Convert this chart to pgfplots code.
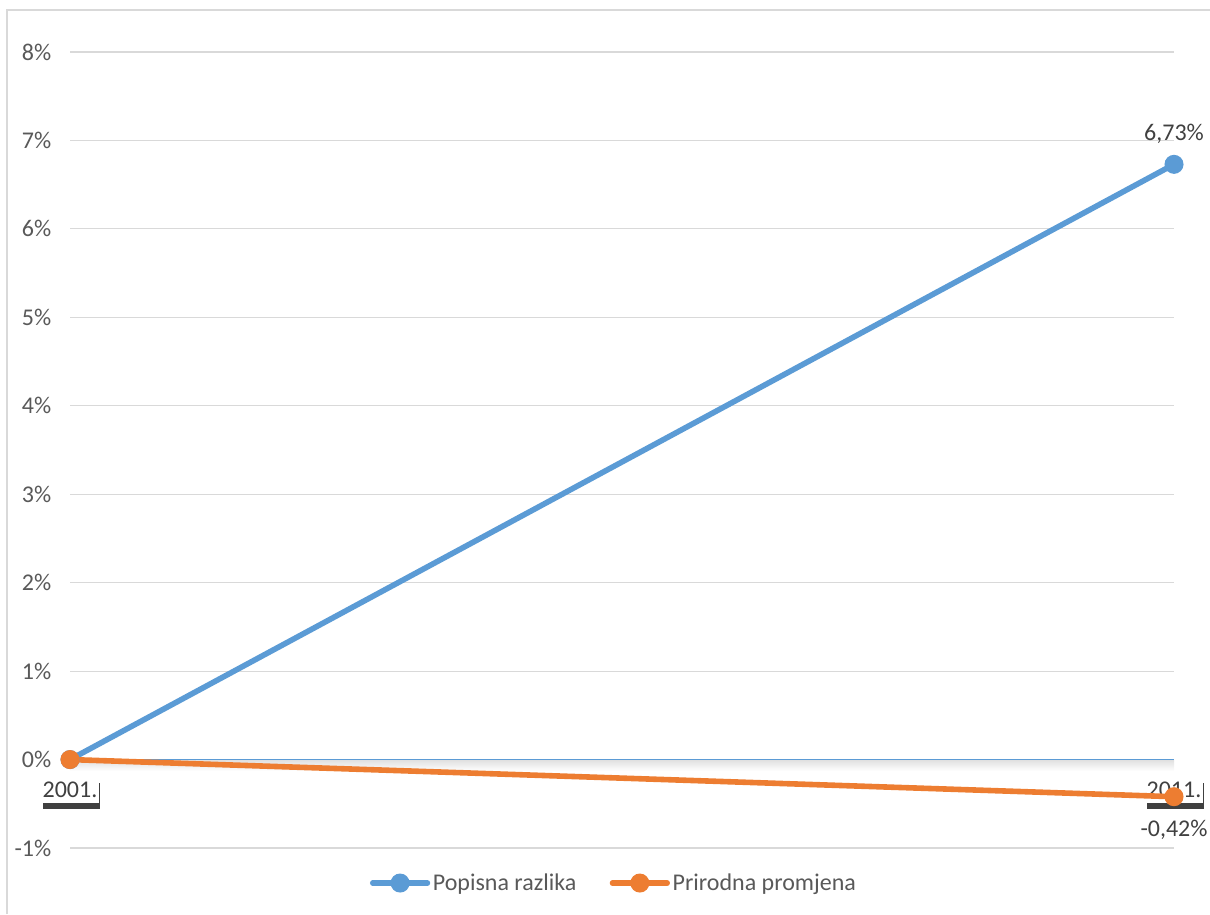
\documentclass[border=0pt]{standalone}
\usepackage{pgfplots}
\pgfplotsset{compat=1.18}
\usepackage{fontspec}
\setmainfont{Carlito}
\usetikzlibrary{shadows}
\definecolor{sblue}{HTML}{5B9BD5}
\definecolor{sorange}{HTML}{ED7D31}
\definecolor{gridc}{HTML}{D9D9D9}
\definecolor{txt}{HTML}{595959}
\definecolor{txtd}{HTML}{404040}
\begin{document}
\begin{tikzpicture}
\path[use as bounding box] (0,0) rectangle (907.5pt,-685.5pt);
\draw[gridc, line width=1.2pt] (5.25pt,-685.5pt) -- (5.25pt,-7.5pt) -- (907.5pt,-7.5pt);
\begin{axis}[
  at={(52.5pt,-636pt)}, anchor=south west,
  scale only axis, width=828pt, height=597pt,
  xmin=0, xmax=1, ymin=-1, ymax=8,
  clip=false,
  axis line style={draw=none},
  tick style={draw=none},
  ytick={-1,0,...,8},
  yticklabels={-1\%,0\%,1\%,2\%,3\%,4\%,5\%,6\%,7\%,8\%},
  ymajorgrids, grid style={gridc, line width=0.9pt},
  yticklabel style={font=\fontsize{18}{20}\selectfont, text=txt, xshift=-10.5pt},
  xtick={0,1}, xticklabels={2001.,2011.},
  xticklabel style={anchor=center, yshift=43.5pt, font=\fontsize{18}{20}\selectfont, text=txtd,
    fill=white, inner xsep=1pt, inner ysep=3.5pt,
    drop shadow={shadow xshift=1.2pt, shadow yshift=-4.5pt, fill=black, opacity=0.75}},
  legend columns=2,
  legend style={draw=none, fill=none, at={(0.493,-0.044)}, anchor=center,
    font=\fontsize{18}{20}\selectfont, text=txt,
    /tikz/every even column/.append style={column sep=23pt}},
  legend image code/.code={\draw[mark repeat=2,mark phase=2,#1] plot coordinates {(0pt,0pt) (20.5pt,0pt) (41pt,0pt)};},
]
\shade[top color=black!12, middle color=black!32, bottom color=white, draw=none]
  (axis cs:0,-0.005) rectangle (axis cs:1,-0.13);
\draw[sblue, line width=1.1pt] (axis cs:0,0) -- (axis cs:1,0);
\addplot[sblue, line width=4.2pt, line cap=round, mark=*, mark size=5pt,
  mark options={draw=none, fill=sblue}] coordinates {(0,0) (1,6.73)};
\addlegendentry{Popisna razlika}
\addplot[sorange, line width=4.2pt, line cap=round, mark=*, mark size=5pt,
  mark options={draw=none, fill=sorange}] coordinates {(0,0) (1,-0.42)};
\addlegendentry{Prirodna promjena}
\node[text=txtd, font=\fontsize{18}{20}\selectfont, yshift=23pt] at (axis cs:1,6.73) {6,73\%};
\node[text=txtd, font=\fontsize{18}{20}\selectfont, yshift=-24.75pt] at (axis cs:1,-0.42) {-0,42\%};
\end{axis}
\end{tikzpicture}
\end{document}
